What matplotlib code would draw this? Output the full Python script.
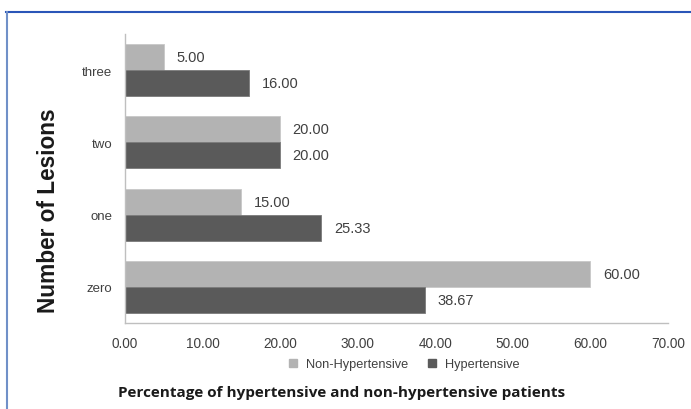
import matplotlib
matplotlib.use("Agg")
import matplotlib.pyplot as plt
from matplotlib.lines import Line2D
import numpy as np

categories = ["zero", "one", "two", "three"]
non_hypertensive = [60.00, 15.00, 20.00, 5.00]
hypertensive = [38.67, 25.33, 20.00, 16.00]
series_names = ["Non-Hypertensive", "Hypertensive"]
xticks = [0, 10, 20, 30, 40, 50, 60, 70]

light = "#b3b3b3"
dark = "#5a5a5a"
txt = "#404040"

plt.rcParams["font.family"] = ["Liberation Sans", "DejaVu Sans"]

fig = plt.figure(figsize=(6.91, 4.10), dpi=100)
W, H = 691, 410
ax = fig.add_axes([125 / W, 1 - 324 / H, (668 - 125) / W, (324 - 35) / H])

y = np.arange(len(categories))
h = 0.36
b1 = ax.barh(y + h / 2, non_hypertensive, height=h, color=light, edgecolor="#c8c8c8", linewidth=0.6, label=series_names[0])
b2 = ax.barh(y - h / 2, hypertensive, height=h, color=dark, edgecolor="#7a7a7a", linewidth=0.6, label=series_names[1])

for bars, vals in ((b1, non_hypertensive), (b2, hypertensive)):
    for rect, v in zip(bars, vals):
        ax.annotate(f"{v:.2f}", xy=(rect.get_width(), rect.get_y() + rect.get_height() / 2),
                    xytext=(9, 0), textcoords="offset points", va="center", ha="left",
                    fontsize=10.5, color=txt)

ax.set_xlim(0, 70)
ax.set_ylim(-0.5, 3.5)
ax.set_xticks(xticks)
ax.set_xticklabels([f"{t:.2f}" for t in xticks], fontsize=9.8, color=txt)
ax.set_yticks(y)
ax.set_yticklabels(categories, fontsize=9.5, color=txt)
ax.tick_params(axis="both", length=0)
ax.tick_params(axis="x", pad=9)
ax.tick_params(axis="y", pad=9)
for s in ("top", "right"):
    ax.spines[s].set_visible(False)
for s in ("left", "bottom"):
    ax.spines[s].set_color("#bfbfbf")
    ax.spines[s].set_linewidth(1.0)

fig.text(49 / W, 1 - 211 / H, "Number of Lesions", rotation=90, ha="center", va="center",
         fontsize=16.3, fontweight="bold", color="#1a1a1a")

handles = [Line2D([], [], marker="s", linestyle="none", markersize=5.5, color=light),
           Line2D([], [], marker="s", linestyle="none", markersize=5.5, color=dark)]
fig.legend(handles, series_names, loc="center", bbox_to_anchor=(400 / W, 1 - 365 / H),
           ncol=2, frameon=False, fontsize=9.2, handletextpad=0.0, columnspacing=0.9,
           labelcolor=txt)

fig.text(342 / W, 1 - 393 / H, "Percentage of hypertensive and non-hypertensive patients",
         ha="center", va="center", fontsize=11, fontweight="bold", color="#1a1a1a",
         family=["Open Sans", "DejaVu Sans"])

# blue frame lines
fig.add_artist(Line2D([6 / W, 1], [1 - 12.5 / H, 1 - 12.5 / H], transform=fig.transFigure, color="#2a55b8", linewidth=1.5))
fig.add_artist(Line2D([6.5 / W, 6.5 / W], [0, 1 - 12.5 / H], transform=fig.transFigure, color="#7090c8", linewidth=1.5))

fig.savefig("out.png", dpi=100)
